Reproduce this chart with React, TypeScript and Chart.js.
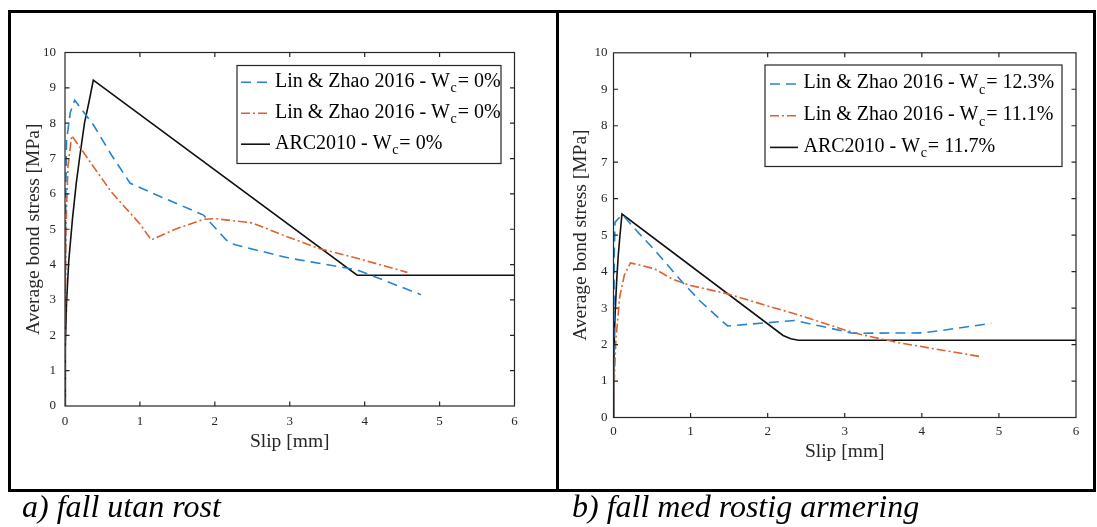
import React, { useEffect, useRef } from "react";
import { Chart, registerables } from "chart.js";

Chart.register(...registerables);

// ---------- Data: panel a) fall utan rost ----------
const xTickValues = [0, 1, 2, 3, 4, 5, 6];
const yTickValues = [0, 1, 2, 3, 4, 5, 6, 7, 8, 9, 10];

const labelsA = [
  "Lin & Zhao 2016 - W_c = 0%",
  "Lin & Zhao 2016 - W_c = 0%",
  "ARC2010 - W_c = 0%",
];
const linZhaoDashA_x = [0, 0.003, 0.008, 0.02, 0.07, 0.13, 0.38, 0.62, 0.87, 1.3, 1.85, 2.0, 2.15, 2.27, 3.0, 3.9, 4.75];
const linZhaoDashA_y = [0, 3.0, 5.5, 7.5, 8.3, 8.65, 7.95, 7.1, 6.3, 5.9, 5.4, 5.05, 4.7, 4.56, 4.18, 3.85, 3.15];
const linZhaoDotA_x = [0, 0.005, 0.015, 0.04, 0.09, 0.38, 0.62, 1.0, 1.15, 1.47, 1.85, 2.0, 2.5, 2.95, 3.4, 3.9, 4.57];
const linZhaoDotA_y = [0, 2.5, 5.2, 6.8, 7.65, 6.77, 6.05, 5.15, 4.7, 5.0, 5.28, 5.3, 5.18, 4.8, 4.45, 4.18, 3.78];
const arcA_x = [0, 0.005, 0.02, 0.05, 0.1, 0.15, 0.2, 0.26, 0.32, 0.378, 3.9, 6];
const arcA_y = [0, 1.7, 2.9, 4.1, 5.3, 6.3, 7.1, 8.0, 8.6, 9.22, 3.7, 3.7];

// ---------- Data: panel b) fall med rostig armering ----------
const labelsB = [
  "Lin & Zhao 2016 - W_c = 12.3%",
  "Lin & Zhao 2016 - W_c = 11.1%",
  "ARC2010 - W_c = 11.7%",
];
const linZhaoDashB_x = [0, 0.005, 0.01, 0.02, 0.06, 0.12, 0.3, 0.53, 0.89, 1.12, 1.48, 2.0, 2.35, 2.7, 3.1, 4.0, 4.3, 4.9];
const linZhaoDashB_y = [0, 2.5, 4.5, 5.35, 5.45, 5.55, 5.12, 4.6, 3.72, 3.2, 2.51, 2.6, 2.66, 2.5, 2.31, 2.32, 2.4, 2.58];
const linZhaoDotB_x = [0, 0.01, 0.03, 0.08, 0.14, 0.22, 0.53, 0.76, 1.0, 1.48, 2.0, 2.45, 3.0, 3.2, 3.7, 4.76];
const linZhaoDotB_y = [0, 1.0, 2.1, 3.3, 3.9, 4.24, 4.08, 3.8, 3.62, 3.39, 3.06, 2.78, 2.4, 2.28, 2.05, 1.67];
const arcB_x = [0, 0.003, 0.01, 0.02, 0.04, 0.06, 0.08, 0.11, 2.2, 2.3, 2.4, 6];
const arcB_y = [0, 1.3, 2.1, 2.8, 3.7, 4.4, 4.9, 5.58, 2.25, 2.16, 2.12, 2.12];

const xTitle = "Slip [mm]";
const yTitle = "Average bond stress [MPa]";
const captionA = "a) fall utan rost";
const captionB = "b) fall med rostig armering";

// ---------- Styles ----------
const SERIF = '"Liberation Serif", "Times New Roman", Times, serif';
const INK = "#262626";
const BLUE = "#2484d2";
const ORANGE = "#e0612f";
const BLACK = "#111111";

Chart.defaults.font.family = SERIF;

const pts = (xs: number[], ys: number[]) => xs.map((x, i) => ({ x, y: ys[i] }));

const framePlugin = {
  id: "matlabFrame",
  afterDatasetsDraw(chart: any) {
    const { ctx, chartArea: a, scales } = chart;
    ctx.save();
    ctx.strokeStyle = INK;
    ctx.lineWidth = 1.2;
    ctx.setLineDash([]);
    ctx.strokeRect(a.left, a.top, a.right - a.left, a.bottom - a.top);
    const L = 4.5;
    ctx.beginPath();
    scales.x.ticks.forEach((t: any) => {
      const px = scales.x.getPixelForValue(t.value);
      if (px <= a.left + 1 || px >= a.right - 1) return;
      ctx.moveTo(px, a.bottom);
      ctx.lineTo(px, a.bottom - L);
      ctx.moveTo(px, a.top);
      ctx.lineTo(px, a.top + L);
    });
    scales.y.ticks.forEach((t: any) => {
      const py = scales.y.getPixelForValue(t.value);
      if (py <= a.top + 1 || py >= a.bottom - 1) return;
      ctx.moveTo(a.left, py);
      ctx.lineTo(a.left + L, py);
      ctx.moveTo(a.right, py);
      ctx.lineTo(a.right - L, py);
    });
    ctx.stroke();
    ctx.restore();
  },
};

const legendPlugin = {
  id: "matlabLegend",
  afterDraw(chart: any, _args: any, opts: any) {
    const { ctx } = chart;
    const { box, rows, sampleX, textX, fontSize, subSize } = opts;
    ctx.save();
    ctx.fillStyle = "#ffffff";
    ctx.fillRect(box.x, box.y, box.w, box.h);
    ctx.strokeStyle = INK;
    ctx.lineWidth = 1.2;
    ctx.strokeRect(box.x, box.y, box.w, box.h);
    chart.data.datasets.forEach((ds: any, i: number) => {
      const base = rows[i];
      const ly = base - 4.3;
      ctx.beginPath();
      ctx.setLineDash(ds.borderDash || []);
      ctx.strokeStyle = ds.borderColor;
      ctx.lineWidth = ds.borderWidth;
      ctx.moveTo(sampleX[0], ly);
      ctx.lineTo(sampleX[1], ly);
      ctx.stroke();
      ctx.setLineDash([]);
      const parts = String(ds.label).split("_c");
      const main = parts[0];
      const rest = (parts[1] || "").trim();
      ctx.fillStyle = "#000000";
      ctx.textBaseline = "alphabetic";
      ctx.textAlign = "left";
      ctx.font = `${fontSize}px ${SERIF}`;
      ctx.fillText(main, textX, base);
      let x = textX + ctx.measureText(main).width;
      ctx.font = `${subSize}px ${SERIF}`;
      ctx.fillText("c", x + 0.5, base + 5.5);
      x += ctx.measureText("c").width + 1.5;
      ctx.font = `${fontSize}px ${SERIF}`;
      ctx.fillText(rest, x, base);
    });
    ctx.restore();
  },
};

type PanelCfg = {
  labels: string[];
  series: { x: number[]; y: number[] }[];
  width: number;
  height: number;
  pad: { left: number; top: number; right: number; bottom: number };
  yWidth: number;
  xHeight: number;
  yTickPad: number;
  xTickPad: number;
  yTitlePad: number;
  xTitlePad: number;
  legend: any;
};

function Panel({ cfg, left }: { cfg: PanelCfg; left: number }) {
  const ref = useRef<HTMLCanvasElement | null>(null);
  useEffect(() => {
    if (!ref.current) return;
    const styles = [
      { color: BLUE, dash: [10, 6] },
      { color: ORANGE, dash: [9, 3, 2, 3] },
      { color: BLACK, dash: [] as number[] },
    ];
    const chart = new Chart(ref.current, {
      type: "line",
      data: {
        datasets: cfg.series.map((s, i) => ({
          label: cfg.labels[i],
          data: pts(s.x, s.y),
          borderColor: styles[i].color,
          borderDash: styles[i].dash,
          borderWidth: 1.6,
          pointRadius: 0,
          tension: 0,
          fill: false,
        })),
      },
      options: {
        responsive: false,
        maintainAspectRatio: false,
        animation: false,
        layout: { padding: cfg.pad },
        scales: {
          x: {
            type: "linear",
            min: 0,
            max: 6,
            afterBuildTicks: (s: any) => {
              s.ticks = xTickValues.map((v) => ({ value: v }));
            },
            ticks: {
              font: { family: SERIF, size: 13 },
              color: INK,
              padding: cfg.xTickPad,
              maxRotation: 0,
              autoSkip: false,
            },
            grid: { display: false, drawTicks: false },
            border: { display: false },
            title: {
              display: true,
              text: xTitle,
              color: INK,
              font: { family: SERIF, size: 19.5 },
              padding: { top: 0, bottom: cfg.xTitlePad },
            },
            afterFit: (s: any) => {
              s.height = cfg.xHeight;
            },
          },
          y: {
            type: "linear",
            min: 0,
            max: 10,
            afterBuildTicks: (s: any) => {
              s.ticks = yTickValues.map((v) => ({ value: v }));
            },
            ticks: {
              font: { family: SERIF, size: 13 },
              color: INK,
              padding: cfg.yTickPad,
              autoSkip: false,
            },
            grid: { display: false, drawTicks: false },
            border: { display: false },
            title: {
              display: true,
              text: yTitle,
              color: INK,
              font: { family: SERIF, size: 19.5 },
              padding: { top: cfg.yTitlePad, bottom: 0 },
            },
            afterFit: (s: any) => {
              s.width = cfg.yWidth;
            },
          },
        },
        plugins: {
          legend: { display: false },
          tooltip: { enabled: false },
          matlabLegend: cfg.legend,
        } as any,
      },
      plugins: [framePlugin, legendPlugin],
    } as any);
    return () => chart.destroy();
  }, [cfg]);
  return (
    <canvas
      ref={ref}
      width={cfg.width}
      height={cfg.height}
      style={{ position: "absolute", left, top: 0, width: cfg.width, height: cfg.height }}
    />
  );
}

const cfgA: PanelCfg = {
  labels: labelsA,
  series: [
    { x: linZhaoDashA_x, y: linZhaoDashA_y },
    { x: linZhaoDotA_x, y: linZhaoDotA_y },
    { x: arcA_x, y: arcA_y },
  ],
  width: 557,
  height: 490,
  pad: { left: 10, top: 52.5, right: 42.5, bottom: 24 },
  yWidth: 55,
  xHeight: 60,
  yTickPad: 9,
  xTickPad: 7.5,
  yTitlePad: 12.6,
  xTitlePad: 12.3,
  legend: {
    box: { x: 237, y: 65.5, w: 264, h: 98 },
    rows: [86.5, 117.5, 148.5],
    sampleX: [241, 270],
    textX: 275,
    fontSize: 20,
    subSize: 14,
  },
};

const cfgB: PanelCfg = {
  labels: labelsB,
  series: [
    { x: linZhaoDashB_x, y: linZhaoDashB_y },
    { x: linZhaoDotB_x, y: linZhaoDotB_y },
    { x: arcB_x, y: arcB_y },
  ],
  width: 540,
  height: 490,
  pad: { left: 5, top: 52.8, right: 21, bottom: 12.5 },
  yWidth: 51.5,
  xHeight: 60,
  yTickPad: 6,
  xTickPad: 6,
  yTitlePad: 7.6,
  xTitlePad: 13.7,
  legend: {
    box: { x: 208, y: 65, w: 297, h: 101.5 },
    rows: [88.3, 120, 151.7],
    sampleX: [213, 241],
    textX: 246.5,
    fontSize: 20,
    subSize: 14,
  },
};

export default function App() {
  const captionStyle: React.CSSProperties = {
    position: "absolute",
    top: 490,
    fontFamily: SERIF,
    fontStyle: "italic",
    fontSize: 32,
    lineHeight: "32px",
    whiteSpace: "nowrap",
    color: "#000",
  };
  return (
    <div
      style={{
        position: "absolute",
        left: 0,
        top: 0,
        width: 1097,
        height: 527,
        overflow: "hidden",
        background: "#fff",
      }}
    >
      <Panel cfg={cfgA} left={0} />
      <Panel cfg={cfgB} left={557} />
      <div
        style={{
          position: "absolute",
          left: 8,
          top: 10,
          width: 1088,
          height: 482,
          border: "3px solid #000",
          boxSizing: "border-box",
        }}
      />
      <div
        style={{ position: "absolute", left: 555.5, top: 10, width: 3, height: 482, background: "#000" }}
      />
      <div style={{ ...captionStyle, left: 22 }}>{captionA}</div>
      <div style={{ ...captionStyle, left: 572 }}>{captionB}</div>
    </div>
  );
}
